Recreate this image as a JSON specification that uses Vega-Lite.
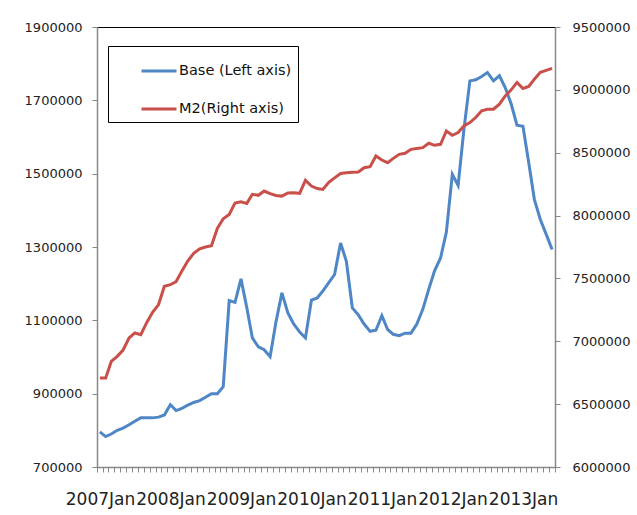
{
  "$schema": "https://vega.github.io/schema/vega-lite/v6.json",
  "width": 458,
  "height": 440,
  "autosize": {"type": "none"},
  "padding": {"left": 97, "top": 27, "right": 82, "bottom": 48},
  "background": "white",
  "config": {"view": {"stroke": "#000", "strokeWidth": 1}, "font": "DejaVu Sans"},
  "data": {"values": [
    {"date": "2007-01-16", "base": 796000, "m2": 6707000},
    {"date": "2007-02-15", "base": 783000, "m2": 6707000},
    {"date": "2007-03-16", "base": 790000, "m2": 6840000},
    {"date": "2007-04-16", "base": 800000, "m2": 6880000},
    {"date": "2007-05-16", "base": 806000, "m2": 6930000},
    {"date": "2007-06-16", "base": 815000, "m2": 7026000},
    {"date": "2007-07-16", "base": 825000, "m2": 7066000},
    {"date": "2007-08-16", "base": 834000, "m2": 7052000},
    {"date": "2007-09-16", "base": 834000, "m2": 7150000},
    {"date": "2007-10-16", "base": 834000, "m2": 7230000},
    {"date": "2007-11-16", "base": 836000, "m2": 7292000},
    {"date": "2007-12-16", "base": 842000, "m2": 7437000},
    {"date": "2008-01-16", "base": 870000, "m2": 7450000},
    {"date": "2008-02-15", "base": 854000, "m2": 7475000},
    {"date": "2008-03-16", "base": 860000, "m2": 7560000},
    {"date": "2008-04-16", "base": 869000, "m2": 7640000},
    {"date": "2008-05-16", "base": 876000, "m2": 7700000},
    {"date": "2008-06-16", "base": 881000, "m2": 7735000},
    {"date": "2008-07-16", "base": 890000, "m2": 7750000},
    {"date": "2008-08-16", "base": 900000, "m2": 7760000},
    {"date": "2008-09-16", "base": 900000, "m2": 7900000},
    {"date": "2008-10-16", "base": 919000, "m2": 7975000},
    {"date": "2008-11-16", "base": 1154000, "m2": 8009000},
    {"date": "2008-12-16", "base": 1149000, "m2": 8100000},
    {"date": "2009-01-16", "base": 1213000, "m2": 8110000},
    {"date": "2009-02-15", "base": 1135000, "m2": 8097000},
    {"date": "2009-03-16", "base": 1052000, "m2": 8169000},
    {"date": "2009-04-16", "base": 1028000, "m2": 8161000},
    {"date": "2009-05-16", "base": 1020000, "m2": 8195000},
    {"date": "2009-06-16", "base": 1001000, "m2": 8175000},
    {"date": "2009-07-16", "base": 1095000, "m2": 8160000},
    {"date": "2009-08-16", "base": 1175000, "m2": 8155000},
    {"date": "2009-09-16", "base": 1120000, "m2": 8180000},
    {"date": "2009-10-16", "base": 1090000, "m2": 8182000},
    {"date": "2009-11-16", "base": 1068000, "m2": 8177000},
    {"date": "2009-12-16", "base": 1052000, "m2": 8280000},
    {"date": "2010-01-16", "base": 1155000, "m2": 8235000},
    {"date": "2010-02-15", "base": 1161000, "m2": 8215000},
    {"date": "2010-03-16", "base": 1180000, "m2": 8208000},
    {"date": "2010-04-16", "base": 1203000, "m2": 8265000},
    {"date": "2010-05-16", "base": 1225000, "m2": 8300000},
    {"date": "2010-06-16", "base": 1311000, "m2": 8335000},
    {"date": "2010-07-16", "base": 1261000, "m2": 8341000},
    {"date": "2010-08-16", "base": 1134000, "m2": 8345000},
    {"date": "2010-09-16", "base": 1115000, "m2": 8347000},
    {"date": "2010-10-16", "base": 1090000, "m2": 8381000},
    {"date": "2010-11-16", "base": 1070000, "m2": 8389000},
    {"date": "2010-12-16", "base": 1073000, "m2": 8474000},
    {"date": "2011-01-16", "base": 1113000, "m2": 8442000},
    {"date": "2011-02-15", "base": 1075000, "m2": 8421000},
    {"date": "2011-03-16", "base": 1062000, "m2": 8455000},
    {"date": "2011-04-16", "base": 1058000, "m2": 8487000},
    {"date": "2011-05-16", "base": 1065000, "m2": 8495000},
    {"date": "2011-06-16", "base": 1065000, "m2": 8527000},
    {"date": "2011-07-16", "base": 1090000, "m2": 8533000},
    {"date": "2011-08-16", "base": 1130000, "m2": 8540000},
    {"date": "2011-09-16", "base": 1185000, "m2": 8575000},
    {"date": "2011-10-16", "base": 1235000, "m2": 8559000},
    {"date": "2011-11-16", "base": 1270000, "m2": 8567000},
    {"date": "2011-12-16", "base": 1340000, "m2": 8673000},
    {"date": "2012-01-16", "base": 1498000, "m2": 8639000},
    {"date": "2012-02-15", "base": 1468000, "m2": 8660000},
    {"date": "2012-03-16", "base": 1620000, "m2": 8713000},
    {"date": "2012-04-16", "base": 1753000, "m2": 8740000},
    {"date": "2012-05-16", "base": 1756000, "m2": 8780000},
    {"date": "2012-06-16", "base": 1765000, "m2": 8833000},
    {"date": "2012-07-16", "base": 1776000, "m2": 8846000},
    {"date": "2012-08-16", "base": 1753000, "m2": 8846000},
    {"date": "2012-09-16", "base": 1767000, "m2": 8886000},
    {"date": "2012-10-16", "base": 1735000, "m2": 8952000},
    {"date": "2012-11-16", "base": 1690000, "m2": 9000000},
    {"date": "2012-12-16", "base": 1632000, "m2": 9059000},
    {"date": "2013-01-16", "base": 1629000, "m2": 9011000},
    {"date": "2013-02-15", "base": 1530000, "m2": 9027000},
    {"date": "2013-03-16", "base": 1430000, "m2": 9085000},
    {"date": "2013-04-16", "base": 1375000, "m2": 9139000},
    {"date": "2013-05-16", "base": 1335000, "m2": 9155000},
    {"date": "2013-06-16", "base": 1293000, "m2": 9171000}
  ]},
  "encoding": {
    "x": {
      "field": "date",
      "type": "temporal",
      "scale": {"type": "utc", "domain": [{"year": 2007, "month": 1, "date": 1, "utc": true}, {"year": 2013, "month": 7, "date": 1, "utc": true}]},
      "axis": {
        "title": null,
        "grid": false,
        "tickCount": {"interval": "month", "step": 1},
        "labelExpr": "utcmonth(datum.value) == 0 ? utcFormat(datum.value, '%Y') + 'Jan' : ''",
        "labelOffset": 3,
        "labelOverlap": false,
        "labelFlush": false,
        "labelBound": false,
        "tickSize": 5,
        "tickColor": "#888",
        "domainColor": "#888",
        "domainWidth": 1.5,
        "labelFontSize": 17,
        "labelColor": "#222",
        "labelPadding": 19,
        "zindex": 1
      }
    }
  },
  "layer": [
    {
      "mark": {"type": "line", "strokeWidth": 3},
      "encoding": {
        "y": {
          "field": "base",
          "type": "quantitative",
          "scale": {"domain": [700000, 1900000], "nice": false, "zero": false},
          "axis": {
            "title": null,
            "grid": false,
            "values": [700000, 900000, 1100000, 1300000, 1500000, 1700000, 1900000],
            "format": "d",
            "tickSize": 5,
            "tickColor": "#888",
            "domainColor": "#888",
            "domainWidth": 1.5,
            "labelFontSize": 13,
            "labelColor": "#222",
            "labelPadding": 10,
            "zindex": 1
          }
        },
        "color": {
          "datum": "Base (Left axis)",
          "scale": {"domain": ["Base (Left axis)", "M2(Right axis)"], "range": ["#4E86C6", "#C94F4A"]},
          "legend": {
            "title": null,
            "orient": "none",
            "legendX": 11,
            "legendY": 19,
            "symbolType": "stroke",
            "symbolSize": 1225,
            "symbolStrokeWidth": 3,
            "strokeColor": "#000",
            "fillColor": "#fff",
            "padding": 6,
            "rowPadding": 12,
            "symbolOffset": 26,
            "labelOffset": 1,
            "labelFontSize": 14.5,
            "labelColor": "#111",
            "labelExpr": "datum.label + '\u00a0\u00a0\u00a0\u00a0\u00a0\u00a0\u00a0\u00a0'"
          }
        }
      }
    },
    {
      "mark": {"type": "line", "strokeWidth": 3},
      "encoding": {
        "y": {
          "field": "m2",
          "type": "quantitative",
          "scale": {"domain": [6000000, 9500000], "nice": false, "zero": false},
          "axis": {
            "title": null,
            "orient": "right",
            "grid": false,
            "values": [6000000, 6500000, 7000000, 7500000, 8000000, 8500000, 9000000, 9500000],
            "format": "d",
            "tickSize": 5,
            "tickColor": "#888",
            "domainColor": "#888",
            "domainWidth": 1.5,
            "labelFontSize": 13,
            "labelColor": "#222",
            "labelPadding": 12,
            "zindex": 1
          }
        },
        "color": {"datum": "M2(Right axis)"}
      }
    }
  ],
  "resolve": {"scale": {"y": "independent"}}
}
